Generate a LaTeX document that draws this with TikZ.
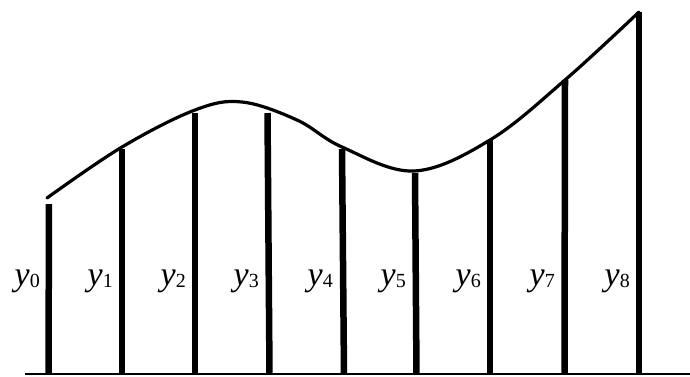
\documentclass[tikz,border=0pt]{standalone}
\usepackage{fontspec}
\setmainfont{Liberation Serif}
\newfontfamily\timesfont{Liberation Serif}
\usepackage{tikz}
\usetikzlibrary{positioning}
\newcommand{\ylab}[1]{{\timesfont\itshape y}\raisebox{-2pt}{\timesfont\fontsize{20}{20}\selectfont #1}}

\begin{document}
\begin{tikzpicture}[
  x=1pt, y=-1pt,
  bar/.style={line width=6.5pt},
  curve/.style={line width=3.2pt, line cap=round},
  axis/.style={line width=2pt},
  lbl/.style={font=\timesfont\fontsize{34}{34}\selectfont, inner sep=0pt, anchor=base east},
]
\useasboundingbox (0,0) rectangle (690,376);
% base line
\coordinate (left)  at (25,374);
\coordinate (right) at (690,374);
\draw[axis] (left) -- (right);
% ordinates
\coordinate (b0) at (48.5,374);  \coordinate (t0) at (49,204);
\coordinate (b1) at (122,374);   \coordinate (t1) at (122,149);
\coordinate (b2) at (195,374);   \coordinate (t2) at (195,113);
\coordinate (b3) at (269.5,374); \coordinate (t3) at (267.5,113);
\coordinate (b4) at (344,374);   \coordinate (t4) at (342,149);
\coordinate (b5) at (416.5,374); \coordinate (t5) at (415,173);
\coordinate (b6) at (490,374);   \coordinate (t6) at (490,140);
\coordinate (b7) at (564.5,374); \coordinate (t7) at (565,80);
\coordinate (b8) at (639,374);   \coordinate (t8) at (639,12);
\draw[bar] (b0) -- (t0);
\draw[bar] (b1) -- (t1);
\draw[bar] (b2) -- (t2);
\draw[bar] (b3) -- (t3);
\draw[bar] (b4) -- (t4);
\draw[bar] (b5) -- (t5);
\draw[bar] (b6) -- (t6);
\draw[bar] (b7) -- (t7);
\draw[bar] (b8) -- (t8);
% the function
\draw[curve] plot[smooth, tension=0.6] coordinates {(47,198) (122,147) (195,110)
  (242,102) (297,120) (342,147) (414,171) (490,140) (565,80) (639,12)};
% labels
\node[lbl] (l0) at (40,285)    {\ylab{0}};
\node[lbl] (l1) at (113,285)   {\ylab{1}};
\node[lbl] (l2) at (186,285)   {\ylab{2}};
\node[lbl] (l3) at (259,285)   {\ylab{3}};
\node[lbl] (l4) at (333,285)   {\ylab{4}};
\node[lbl] (l5) at (406,285)   {\ylab{5}};
\node[lbl] (l6) at (481,285)   {\ylab{6}};
\node[lbl] (l7) at (555,285)   {\ylab{7}};
\node[lbl] (l8) at (630,285)   {\ylab{8}};
\end{tikzpicture}
\end{document}
